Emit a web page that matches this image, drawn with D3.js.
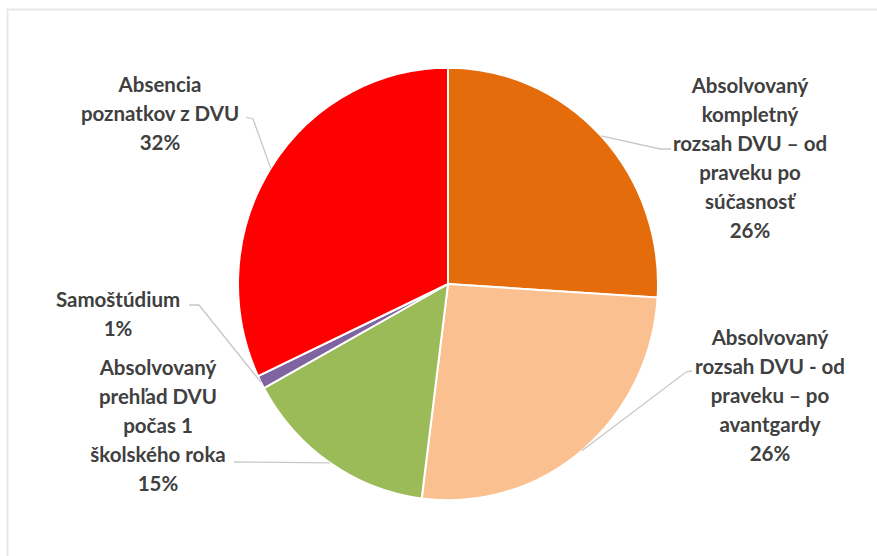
<!DOCTYPE html>
<html>
<head>
<meta charset="utf-8">
<script src="https://cdn.jsdelivr.net/npm/d3@7"></script>
<style>
  html, body { margin: 0; padding: 0; background: #fff; }
  svg { display: block; }
</style>
</head>
<body>
<svg id="chart" width="877" height="556"></svg>
<script>
// ---- data ----
const categories = [
  "Absolvovaný kompletný rozsah DVU – od praveku po súčasnosť",
  "Absolvovaný rozsah DVU - od praveku – po avantgardy",
  "Absolvovaný prehľad DVU počas 1 školského roka",
  "Samoštúdium",
  "Absencia poznatkov z DVU"
];
const values = [26, 26, 15, 1, 32];
const labelLines = [
  ["Absolvovaný", "kompletný", "rozsah DVU – od", "praveku po", "súčasnosť"],
  ["Absolvovaný", "rozsah DVU - od", "praveku – po", "avantgardy"],
  ["Absolvovaný", "prehľad DVU", "počas 1", "školského roka"],
  ["Samoštúdium"],
  ["Absencia", "poznatkov z DVU"]
];
const colors = ["#E46C0A", "#FAC090", "#9BBB59", "#8064A2", "#FF0000"];

// ---- layout ----
const cx = 448, cy = 284, r = 210, yScale = 1.03;
const lineH = 29;
// label block center x, first-line y, elbow point(s) (text side), angle offset (deg) for leader end
const labelLayout = [
  { x: 750, y: 86,  elbow: [[671, 149], [660, 149]], off: 0 },
  { x: 770, y: 338, elbow: [[692, 371], [686, 372]], off: 0 },
  { x: 158, y: 368, elbow: [[234, 462]], off: 0 },
  { x: 118, y: 300, elbow: [[189, 305], [199, 305]], off: 0 },
  { x: 160, y: 85,  elbow: [[246, 117], [253, 119]], off: 0 }
];

const svg = d3.select("#chart");

// chart frame
svg.append("rect")
  .attr("x", 7.5).attr("y", 9.5).attr("width", 880).attr("height", 560)
  .attr("fill", "#fff").attr("stroke", "#e8e8e8").attr("stroke-width", 2);

const pie = d3.pie().sort(null).value(d => d)(values);
const arc = d3.arc().innerRadius(0).outerRadius(r);

const g = svg.append("g")
  .attr("transform", `translate(${cx},${cy}) scale(1,${yScale})`);

g.selectAll("path").data(pie).join("path")
  .attr("d", arc)
  .attr("fill", (d, i) => colors[i])
  .attr("stroke", "#fff")
  .attr("stroke-width", 2)
  .attr("vector-effect", "non-scaling-stroke");

function edgePoint(a) {
  return [cx + r * Math.sin(a), cy - r * yScale * Math.cos(a)];
}

// leader lines
pie.forEach((d, i) => {
  const L = labelLayout[i];
  const mid = (d.startAngle + d.endAngle) / 2 + L.off * Math.PI / 180;
  const pts = L.elbow.concat([edgePoint(mid)]);
  svg.append("polyline")
    .attr("points", pts.map(p => p.join(",")).join(" "))
    .attr("fill", "none")
    .attr("stroke", "#c8c8c8")
    .attr("stroke-width", 1.3);
});

// labels
pie.forEach((d, i) => {
  const L = labelLayout[i];
  const lines = labelLines[i].concat([d3.format(".0%")(values[i] / d3.sum(values))]);
  const t = svg.append("text")
    .attr("text-anchor", "middle")
    .attr("font-family", "Lato, 'Open Sans', sans-serif")
    .attr("font-weight", "bold")
    .attr("font-size", 20.5)
    .attr("fill", "#404040");
  lines.forEach((s, k) => {
    t.append("tspan")
      .attr("x", L.x)
      .attr("y", L.y + k * lineH)
      .attr("dy", "0.35em")
      .text(s);
  });
});
</script>
</body>
</html>
